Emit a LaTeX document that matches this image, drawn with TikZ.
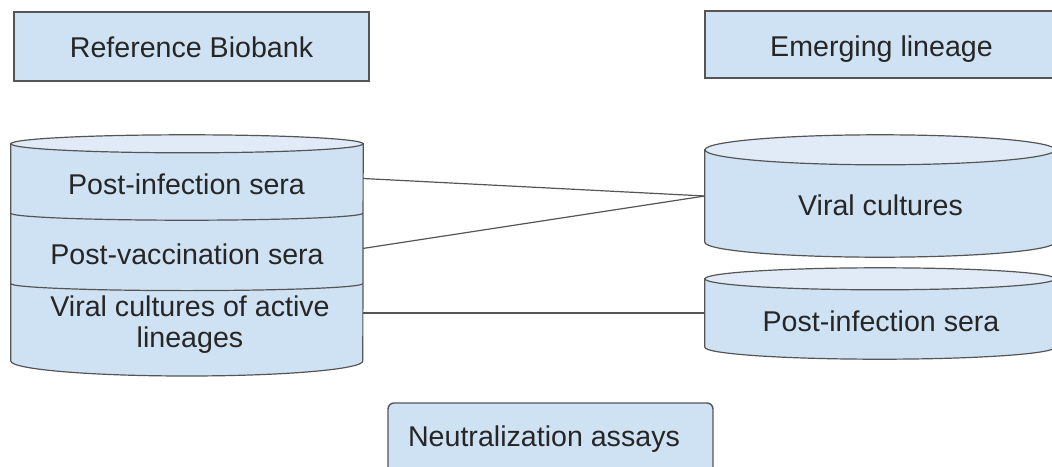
\documentclass[tikz,border=0pt]{standalone}
\usepackage{fontspec}
\setmainfont{Liberation Sans}
\definecolor{bankblue}{RGB}{207,226,243}
\definecolor{banklightblue}{RGB}{224,235,247}
\definecolor{bankgray}{RGB}{85,85,85}
\usetikzlibrary{positioning}

\begin{document}
\begin{tikzpicture}[x=1pt, y=-1pt]
    \tikzstyle{box} = [rectangle, draw=bankgray, fill=bankblue, line width=1.4pt, inner sep=0pt]
    \tikzstyle{part} = [rectangle, inner sep=0pt, minimum width=352pt]
    \tikzstyle{wall} = [draw=bankgray, fill=bankblue, line width=1.2pt]
    \tikzstyle{lid} = [draw=bankgray, fill=banklightblue, line width=1.2pt]
    \tikzstyle{link} = [draw=bankgray, line width=1.2pt]
    \tikzstyle{boxtext} = [anchor=base, inner sep=0pt, align=center, text=black!85,
        font=\fontsize{28.6}{31}\selectfont]

    \useasboundingbox (0,0) rectangle (1052,466);
    \clip (0,0) rectangle (1052,466);

    % top boxes
    \node [box, minimum width=355pt, minimum height=69pt] (refbank) at (191.5,46.5) {};
    \node [box, minimum width=352pt, minimum height=67pt] (emerging) at (881,44.5) {};

    % reference biobank cylinder
    \node [part, minimum height=69pt] (leftinf) at (187,178.5) {};
    \node [part, minimum height=70pt, below=0pt of leftinf] (leftvac) {};
    \node [part, minimum height=77pt, below=0pt of leftvac] (leftcul) {};
    \path [wall] (leftinf.north west) -- (leftcul.south west)
        arc [start angle=180, end angle=360, x radius=176pt, y radius=15pt]
        -- (leftinf.north east) -- cycle;
    \draw [link] (leftinf.south west) arc [start angle=180, end angle=360, x radius=176pt, y radius=7pt];
    \draw [link] (leftvac.south west) arc [start angle=180, end angle=360, x radius=176pt, y radius=7pt];
    \path [lid] (leftinf.north) ellipse [x radius=176pt, y radius=9pt];

    % emerging lineage cylinders
    \node [part, minimum width=350pt, minimum height=92pt] (rightvir) at (880,196) {};
    \path [wall] (rightvir.north west) -- (rightvir.south west)
        arc [start angle=180, end angle=360, x radius=175pt, y radius=15pt]
        -- (rightvir.north east) -- cycle;
    \path [lid] (rightvir.north) ellipse [x radius=175pt, y radius=15pt];

    \node [part, minimum width=350pt, minimum height=68pt] (rightsera) at (880,313) {};
    \path [wall] (rightsera.north west) -- (rightsera.south west)
        arc [start angle=180, end angle=360, x radius=175pt, y radius=12pt]
        -- (rightsera.north east) -- cycle;
    \path [lid] (rightsera.north) ellipse [x radius=175pt, y radius=11pt];

    \node [box, rounded corners=6pt, minimum width=325pt, minimum height=70pt] (assays) at (550.5,438) {};

    % connections
    \draw [link] (leftinf.east) -- (rightvir.west);
    \draw [link] (leftvac.east) -- (rightvir.west);
    \draw [link] (leftcul.east |- rightsera.west) -- (rightsera.west);

    % texts
    \node [boxtext] (reftext) at (191.5,57) {Reference Biobank};
    \node [boxtext] (emergingtext) at (881.5,56.5) {Emerging lineage};
    \node [boxtext] (leftinftext) at (186.5,194) {Post-infection sera};
    \node [boxtext] (leftvactext) at (187,264) {Post-vaccination sera};
    \node [boxtext, anchor=center] (leftcultext) at (190,325) {Viral cultures of active\\lineages};
    \node [boxtext] (rightvirtext) at (880.5,215) {Viral cultures};
    \node [boxtext] (rightseratext) at (881,331) {Post-infection sera};
    \node [boxtext] (assaystext) at (544,446) {Neutralization assays};
\end{tikzpicture}
\end{document}
